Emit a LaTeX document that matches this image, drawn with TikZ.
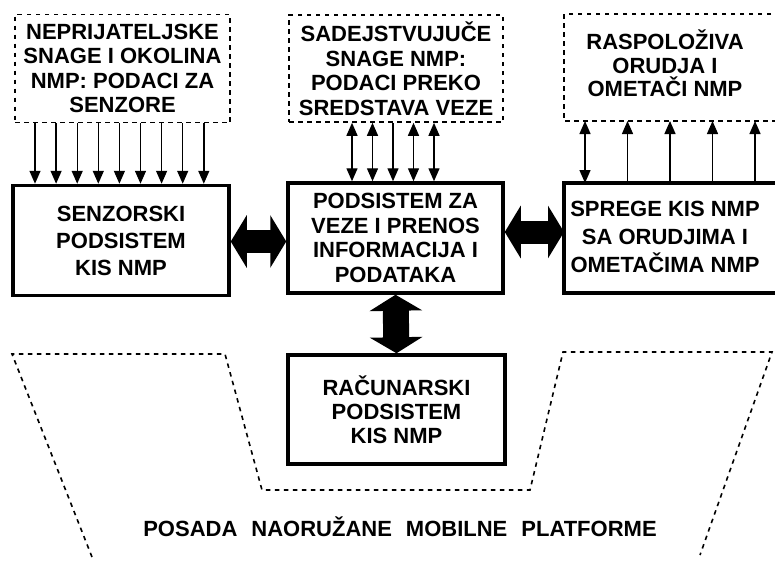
\documentclass[tikz,border=0pt]{standalone}
\usepackage{fontspec}
\setmainfont{Liberation Sans}
\usetikzlibrary{arrows.meta}
\tikzset{
  txt/.style={font=\fontsize{22}{24.5}\selectfont\bfseries, align=center, inner sep=0pt},
  solidbox/.style={draw, line width=3.5pt, minimum width=216pt, minimum height=110pt},
  openbox/.style={draw, line width=3.5pt},
  dotbox/.style={draw, line width=1.6pt, dash pattern=on 4.5pt off 4.5pt},
  dotted box/.style={dotbox, minimum width=215pt, minimum height=108pt},
  sig/.style={line width=1.4pt, arrows={-Triangle[width=11pt,length=13pt]}},
  sigboth/.style={line width=1.4pt, arrows={Triangle[width=11pt,length=13pt]-Triangle[width=11pt,length=13pt]}},
  bigarrow/.style={line width=23pt, arrows={Triangle[width=52pt,length=16pt]-Triangle[width=52pt,length=16pt]}}
}
\begin{document}
\begin{tikzpicture}[x=1pt,y=-1pt]
\useasboundingbox (0,0) rectangle (775,563);
\clip (0,0) rectangle (775,563);
% top dotted boxes
\node[dotted box, txt] (tl) at (122.5,68.5) {NEPRIJATELJSKE\\SNAGE I OKOLINA\\NMP: PODACI ZA\\SENZORE};
\node[dotted box, txt, minimum width=214pt, minimum height=107pt] (tm) at (396,68.5) {SADEJSTVUJUČE\\SNAGE NMP:\\PODACI PREKO\\SREDSTAVA VEZE};
\draw[dotbox] (780,14) -- (564,14) -- (564,121) -- (780,121);
\node[txt, font=\fontsize{22}{23.5}\selectfont\bfseries] (tr) at (665,63.5) {RASPOLOŽIVA\\ORUDJA I\\OMETAČI NMP};
% main boxes
\node[solidbox, txt, font=\fontsize{22}{27}\selectfont\bfseries] (sen) at (121,240.5) {SENZORSKI\\PODSISTEM\\KIS NMP};
\node[solidbox, txt, minimum width=215pt] (mid) at (395.5,238) {PODSISTEM ZA\\VEZE I PRENOS\\INFORMACIJA I\\PODATAKA};
\draw[openbox] (780,183) -- (564,183) -- (564,293) -- (780,293);
\node[txt, font=\fontsize{22}{28}\selectfont\bfseries] (rb) at (665,236.5) {SPREGE KIS NMP\\SA ORUDJIMA I\\OMETAČIMA NMP};
\coordinate (rbw) at (564,232);
\coordinate (rbt) at (564,183);
\coordinate (trb) at (564,121);
\node[solidbox, txt, minimum width=217pt, minimum height=109pt, font=\fontsize{22}{24}\selectfont\bfseries] (comp) at (396.5,409.5) {RAČUNARSKI\\PODSISTEM\\KIS NMP};
% thin arrows
\foreach \i in {0,...,8} {
  \coordinate (a) at (35+21.1*\i,0);
  \draw[sig] (tl.south -| a) -- (sen.north -| a);
}
\foreach \i in {0,1,3,4} {
  \coordinate (b) at (352+20.5*\i,0);
  \draw[sigboth] (tm.south -| b) -- (mid.north -| b);
}
\coordinate (b) at (393,0);
\draw[sig] (tm.south -| b) -- (mid.north -| b);
\coordinate (c) at (585,0);
\draw[sigboth] (trb -| c) -- (rbt -| c);
\foreach \i in {1,...,4} {
  \coordinate (c) at (585+42.5*\i,0);
  \draw[sig] (rbt -| c) -- (trb -| c);
}
% big arrows
\draw[bigarrow] ([yshift=-1pt]sen.east) -- ([yshift=-1pt]sen.east -| mid.west);
\draw[bigarrow] ([yshift=6pt]mid.east) -- (rbw);
\draw[bigarrow, line width=26pt] (mid.south) -- (comp.north);
% crew outline
\draw[dotbox] (92,557) -- (12,354) -- (225,354) -- (262,490) -- (530,490) -- (563,352) -- (772,352) -- (700,555);
\node[txt] (crew) at (400,527) {POSADA\hspace{14pt}NAORUŽANE\hspace{14pt}MOBILNE\hspace{14pt}PLATFORME};
\end{tikzpicture}
\end{document}
